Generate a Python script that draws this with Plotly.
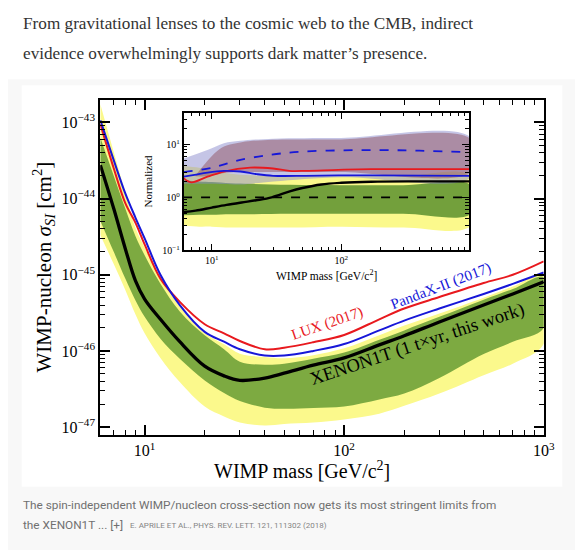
import plotly.graph_objects as go
import math

W, H = 583, 550

# ---------------- Main panel data (mass in GeV/c^2, cross-section in cm^2) ----------------
mass = [6, 7, 8, 9, 10, 12, 15, 20, 25, 30, 40, 50, 70, 100, 150, 200, 300, 500, 700, 1000]
xenon1t_limit = [2.75e-44, 7.4e-45, 2.2e-45, 8.3e-46, 4.8e-46, 2.6e-46, 1.32e-46, 6.3e-47, 4.7e-47, 4.1e-47,
                 4.4e-47, 5.1e-47, 6.5e-47, 8.1e-47, 1.2e-46, 1.58e-46, 2.4e-46, 4.0e-46, 5.6e-46, 8.1e-46]
lux_2017 = [9.5e-44, 2.5e-44, 8.7e-45, 4.8e-45, 2.5e-45, 8.9e-46, 4.4e-46, 2.24e-46, 1.7e-46, 1.35e-46,
            1.05e-46, 1.1e-46, 1.3e-46, 1.62e-46, 2.6e-46, 3.6e-46, 5.1e-46, 7.8e-46, 1.0e-45, 1.5e-45]
pandax_2017 = [1.07e-43, 3.2e-44, 1.17e-44, 5.6e-45, 3.0e-45, 1.0e-45, 4.0e-46, 1.78e-46, 1.32e-46, 1.05e-46,
               8.7e-47, 8.7e-47, 1.0e-46, 1.23e-46, 1.86e-46, 2.5e-46, 3.6e-46, 5.6e-46, 7.6e-46, 1.07e-45]
sigma1_upper = [6.3e-44, 2.0e-44, 7.4e-45, 3.2e-45, 1.8e-45, 7.6e-46, 3.3e-46, 1.6e-46, 1.05e-46, 7.2e-47,
                6.6e-47, 6.8e-47, 7.9e-47, 9.5e-47, 1.4e-46, 1.86e-46, 2.8e-46, 4.7e-46, 6.5e-46, 9.3e-46]
sigma1_lower = [5.1e-45, 2.0e-45, 8.9e-46, 4.6e-46, 2.8e-46, 1.45e-46, 7.9e-47, 4.1e-47, 2.8e-47, 2.2e-47,
                1.8e-47, 1.74e-47, 1.78e-47, 1.86e-47, 2.3e-47, 2.75e-47, 4.4e-47, 9.1e-47, 1.32e-46, 2.0e-46]
sigma2_upper = [1.74e-43, 4.1e-44, 1.2e-44, 4.1e-45, 2.3e-45, 9.3e-46, 3.8e-46, 1.7e-46, 1.22e-46, 9.2e-47,
                8.3e-47, 8.0e-47, 8.8e-47, 1.08e-46, 1.6e-46, 2.15e-46, 3.1e-46, 5.0e-46, 7.0e-46, 9.9e-46]
sigma2_lower = [3.3e-45, 1.38e-45, 6.3e-46, 3.0e-46, 1.7e-46, 8.1e-47, 3.9e-47, 1.86e-47, 1.38e-47, 1.15e-47,
                1.05e-47, 1.1e-47, 1.15e-47, 1.26e-47, 1.5e-47, 1.9e-47, 2.75e-47, 4.8e-47, 6.8e-47, 1.23e-46]

main_x_ticks = [10, 100, 1000]
main_x_ticktext = ["10<sup>1</sup>", "10<sup>2</sup>", "10<sup>3</sup>"]
main_y_ticks = [1e-47, 1e-46, 1e-45, 1e-44, 1e-43]
main_y_ticktext = ["10<sup>\u221247</sup>", "10<sup>\u221246</sup>", "10<sup>\u221245</sup>",
                   "10<sup>\u221244</sup>", "10<sup>\u221243</sup>"]

# ---------------- Inset data (normalized) ----------------
inset_mass_limit = [6.06, 7.5, 10, 13, 17, 22, 29, 40, 50, 70, 100, 170, 400, 1000]
inset_limit = [0.53, 0.56, 0.64, 0.72, 0.80, 0.88, 1.0, 1.3, 1.5, 1.75, 1.88, 1.97, 2.0, 2.0]
inset_mass_lux = [6.06, 6.93, 9.26, 12.4, 19.8, 29.7, 39.7, 53, 94.8, 169, 1000]
inset_lux = [2.3, 1.92, 2.45, 3.07, 3.64, 3.5, 3.16, 3.16, 3.3, 3.4, 3.4]
inset_mass_pandax = [6.06, 7.35, 9.26, 12.4, 16.6, 22.2, 29.7, 53, 94.8, 169, 1000]
inset_pandax = [2.45, 2.66, 2.94, 3.16, 3.07, 2.74, 2.55, 2.55, 2.6, 2.6, 2.55]
inset_mass_pandax_med = [6.06, 10, 16, 29, 50, 100, 200, 400, 1000]
inset_pandax_med = [3.0, 3.6, 5.0, 6.4, 7.3, 7.7, 7.8, 7.6, 7.1]
inset_mass_bands = [6.06, 8, 10, 14, 20, 40, 100, 300, 1000]
inset_yellow_upper = [3.9, 3.6, 3.1, 2.8, 2.6, 2.5, 2.5, 2.5, 2.5]
inset_green_upper = [2.1, 2.0, 1.95, 1.85, 1.8, 1.72, 1.7, 1.7, 1.7]
inset_green_lower = [0.46, 0.47, 0.47, 0.48, 0.48, 0.49, 0.49, 0.49, 0.49]
inset_yellow_lower = [0.29, 0.28, 0.28, 0.27, 0.27, 0.27, 0.28, 0.27, 0.29]
inset_mass_lav = [6.06, 9.26, 12.4, 16.6, 30, 100, 1000]
inset_lav_upper = [5.4, 7.8, 10.5, 11.7, 12.8, 13.2, 13.4]
inset_lav_lower = [1.8, 1.8, 1.78, 1.75, 2.0, 2.4, 2.4]
inset_mass_mauve = [7.5, 9, 11, 13, 17, 25, 50, 100, 1000]
inset_mauve_upper = [2.6, 4.5, 7.5, 9.5, 11, 12, 12.3, 12.4, 12.5]
inset_mauve_lower = [2.5, 2.5, 2.7, 2.9, 3.0, 3.0, 3.0, 3.0, 3.0]
inset_ref_mass = [6, 1000]
inset_ref = [1, 1]
inset_x_ticks = [10, 100, 1000]
inset_x_ticktext = ["10<sup>1</sup>", "10<sup>2</sup>", "10<sup>3</sup>"]
inset_y_ticks = [0.1, 1, 10]
inset_y_ticktext = ["10<sup>\u22121</sup>", "10<sup>0</sup>", "10<sup>1</sup>"]

# ---------------- styling ----------------
YELLOW = "#fbf98c"
GREEN = "#7daa41"
GREEN_IN = "#73a03c"
RED = "#e8191e"
BLUE = "#1717d8"
SERIF = "Liberation Serif"


def px(x):
    return x / W


def py(y):
    return 1 - y / H


def band(xs, lo, hi):
    return list(xs) + list(xs)[::-1], list(hi) + list(lo)[::-1]


def minor_vals(lo_exp, hi_exp, scale=1.0):
    vals = []
    for e in range(lo_exp, hi_exp + 1):
        for d in range(2, 10):
            vals.append(d * 10 ** e * scale)
    return vals


fig = go.Figure()

# main bands
bx, by = band(mass, sigma2_lower, sigma2_upper)
fig.add_trace(go.Scatter(x=bx, y=by, fill="toself", fillcolor=YELLOW, line=dict(width=0, shape="spline"),
                         mode="lines", hoverinfo="skip", showlegend=False, xaxis="x", yaxis="y"))
bx, by = band(mass, sigma1_lower, sigma1_upper)
fig.add_trace(go.Scatter(x=bx, y=by, fill="toself", fillcolor=GREEN, line=dict(width=0, shape="spline"),
                         mode="lines", hoverinfo="skip", showlegend=False, xaxis="x", yaxis="y"))
fig.add_trace(go.Scatter(x=mass, y=lux_2017, mode="lines", line=dict(color=RED, width=2, shape="spline"),
                         showlegend=False, xaxis="x", yaxis="y"))
fig.add_trace(go.Scatter(x=mass, y=pandax_2017, mode="lines", line=dict(color=BLUE, width=2, shape="spline"),
                         showlegend=False, xaxis="x", yaxis="y"))
fig.add_trace(go.Scatter(x=mass, y=xenon1t_limit, mode="lines", line=dict(color="black", width=3.3, shape="spline"),
                         showlegend=False, xaxis="x", yaxis="y"))

# inset
bx, by = band(inset_mass_bands, inset_yellow_lower, inset_yellow_upper)
fig.add_trace(go.Scatter(x=bx, y=by, fill="toself", fillcolor=YELLOW, line=dict(width=0, shape="spline"),
                         mode="lines", hoverinfo="skip", showlegend=False, xaxis="x2", yaxis="y2"))
bx, by = band(inset_mass_bands, inset_green_lower, inset_green_upper)
fig.add_trace(go.Scatter(x=bx, y=by, fill="toself", fillcolor=GREEN_IN, line=dict(width=0, shape="spline"),
                         mode="lines", hoverinfo="skip", showlegend=False, xaxis="x2", yaxis="y2"))
bx, by = band(inset_mass_lav, inset_lav_lower, inset_lav_upper)
fig.add_trace(go.Scatter(x=bx, y=by, fill="toself", fillcolor="rgba(140,140,205,0.5)",
                         line=dict(width=0, shape="spline"),
                         mode="lines", hoverinfo="skip", showlegend=False, xaxis="x2", yaxis="y2"))
bx, by = band(inset_mass_mauve, inset_mauve_lower, inset_mauve_upper)
fig.add_trace(go.Scatter(x=bx, y=by, fill="toself", fillcolor="rgba(140,70,85,0.45)",
                         line=dict(width=0, shape="spline"),
                         mode="lines", hoverinfo="skip", showlegend=False, xaxis="x2", yaxis="y2"))
fig.add_trace(go.Scatter(x=inset_ref_mass, y=inset_ref, mode="lines",
                         line=dict(color="black", width=1.8, dash="dash"),
                         showlegend=False, xaxis="x2", yaxis="y2"))
fig.add_trace(go.Scatter(x=inset_mass_pandax_med, y=inset_pandax_med, mode="lines",
                         line=dict(color=BLUE, width=1.8, dash="dash", shape="spline"),
                         showlegend=False, xaxis="x2", yaxis="y2"))
fig.add_trace(go.Scatter(x=inset_mass_lux, y=inset_lux, mode="lines",
                         line=dict(color=RED, width=1.8, shape="spline"),
                         showlegend=False, xaxis="x2", yaxis="y2"))
fig.add_trace(go.Scatter(x=inset_mass_pandax, y=inset_pandax, mode="lines",
                         line=dict(color=BLUE, width=1.8, shape="spline"),
                         showlegend=False, xaxis="x2", yaxis="y2"))
fig.add_trace(go.Scatter(x=inset_mass_limit, y=inset_limit, mode="lines",
                         line=dict(color="black", width=2.4, shape="spline"),
                         showlegend=False, xaxis="x2", yaxis="y2"))

axis_common = dict(type="log", showline=True, linecolor="black", mirror="allticks", ticks="inside",
                   showgrid=False, zeroline=False, tickcolor="black")

fig.update_layout(
    width=W, height=H,
    margin=dict(l=0, r=0, t=0, b=0),
    paper_bgcolor="white",
    plot_bgcolor="rgba(0,0,0,0)",
    showlegend=False,
    xaxis=dict(axis_common, domain=[px(94), px(546)], anchor="y",
               range=[math.log10(5.99), 3.0], linewidth=2, ticklen=10, tickwidth=1.5,
               tickmode="array", tickvals=main_x_ticks, ticktext=main_x_ticktext,
               tickfont=dict(family=SERIF, size=16, color="black"),
               minor=dict(ticks="inside", ticklen=5, tickwidth=1.2, tickcolor="black",
                          tickmode="array", tickvals=minor_vals(0, 2), showgrid=False)),
    yaxis=dict(axis_common, domain=[py(432), py(93)], anchor="x",
               range=[-47.108, -42.705], linewidth=2, ticklen=10, tickwidth=1.5,
               tickmode="array", tickvals=main_y_ticks, ticktext=main_y_ticktext,
               tickfont=dict(family=SERIF, size=16, color="black"),
               minor=dict(ticks="inside", ticklen=5, tickwidth=1.2, tickcolor="black",
                          tickmode="array", tickvals=minor_vals(-47, -43), showgrid=False)),
    xaxis2=dict(axis_common, domain=[px(179), px(470)], anchor="y2",
                range=[math.log10(6.06), math.log10(970)], linewidth=1.6, ticklen=7, tickwidth=1.2,
                tickmode="array", tickvals=inset_x_ticks, ticktext=inset_x_ticktext,
                tickfont=dict(family=SERIF, size=10, color="black"),
                minor=dict(ticks="inside", ticklen=4, tickwidth=1, tickcolor="black",
                           tickmode="array", tickvals=minor_vals(0, 2), showgrid=False)),
    yaxis2=dict(axis_common, domain=[py(245), py(105.7)], anchor="x2",
                range=[-1.0, 1.6], linewidth=1.6, ticklen=7, tickwidth=1.2,
                tickmode="array", tickvals=inset_y_ticks, ticktext=inset_y_ticktext,
                tickfont=dict(family=SERIF, size=10, color="black"),
                minor=dict(ticks="inside", ticklen=4, tickwidth=1, tickcolor="black",
                           tickmode="array", tickvals=minor_vals(-1, 1), showgrid=False)),
)

# page background shapes
fig.add_shape(type="rect", xref="paper", yref="paper", x0=0, x1=1, y0=0, y1=py(72),
              fillcolor="#f8f8f8", line=dict(width=0), layer="below")
fig.add_shape(type="rect", xref="paper", yref="paper", x0=px(14), x1=px(565), y0=py(484), y1=py(78),
              fillcolor="white", line=dict(width=0), layer="below")

ann = []
# article text
ann.append(dict(text="From gravitational lenses to the cosmic web to the CMB, indirect",
                x=px(13), y=py(16), xanchor="left", yanchor="middle",
                font=dict(family=SERIF, size=17.2, color="#333333")))
ann.append(dict(text="evidence overwhelmingly supports dark matter\u2019s presence.",
                x=px(13), y=py(46), xanchor="left", yanchor="middle",
                font=dict(family=SERIF, size=17.2, color="#333333")))
# caption
ann.append(dict(text="The spin-independent WIMP/nucleon cross-section now gets its most stringent limits from",
                x=px(13), y=py(502), xanchor="left", yanchor="middle",
                font=dict(family="Roboto", size=11.8, color="#707070")))
ann.append(dict(text="the XENON1T ... [+]",
                x=px(13), y=py(523), xanchor="left", yanchor="middle",
                font=dict(family="Roboto", size=11.8, color="#707070")))
ann.append(dict(text="E. APRILE ET AL., PHYS. REV. LETT. 121, 111302 (2018)",
                x=px(122), y=py(523), xanchor="left", yanchor="middle",
                font=dict(family="Roboto", size=8, color="#858585")))
# axis titles
ann.append(dict(text="WIMP mass [GeV/c<sup>2</sup>]", x=px(300), y=py(467), xanchor="center", yanchor="middle",
                font=dict(family=SERIF, size=20, color="black")))
ann.append(dict(text="WIMP-nucleon <i>\u03c3</i><sub><i>SI</i></sub> [cm<sup>2</sup>]", x=px(36), y=py(262),
                xanchor="center", yanchor="middle", textangle=-90,
                font=dict(family=SERIF, size=21, color="black")))
ann.append(dict(text="WIMP mass [GeV/c<sup>2</sup>]", x=px(325), y=py(270), xanchor="center", yanchor="middle",
                font=dict(family=SERIF, size=11.5, color="black")))
ann.append(dict(text="Normalized", x=px(143), y=py(175), xanchor="center", yanchor="middle", textangle=-90,
                font=dict(family=SERIF, size=11, color="black")))
# curve labels
ann.append(dict(text="LUX (2017)", x=px(326), y=py(319), xanchor="center", yanchor="middle", textangle=-19,
                font=dict(family=SERIF, size=15, color=RED)))
ann.append(dict(text="PandaX-II (2017)", x=px(441), y=py(282), xanchor="center", yanchor="middle", textangle=-21,
                font=dict(family=SERIF, size=15, color=BLUE)))
ann.append(dict(text="XENON1T (1 t\u00d7yr, this work)", x=px(417), y=py(340), xanchor="center", yanchor="middle",
                textangle=-18.5, font=dict(family=SERIF, size=18.5, color="black")))

for a in ann:
    a.update(xref="paper", yref="paper", showarrow=False)
fig.update_layout(annotations=ann)

fig.write_html("out.html")
